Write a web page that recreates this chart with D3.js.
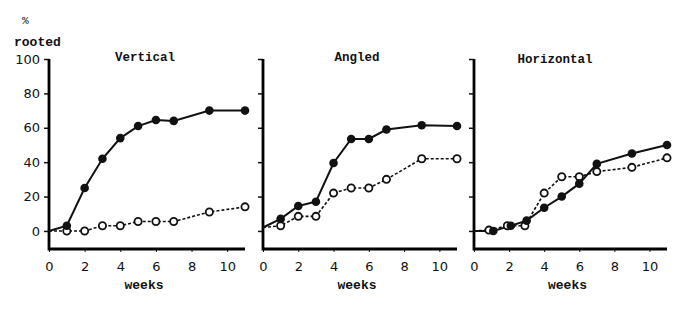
<!DOCTYPE html>
<html>
<head>
<meta charset="utf-8">
<script src="https://cdn.jsdelivr.net/npm/d3@7"></script>
<style>
  body { margin: 0; background: #fff; }
  svg { display: block; }
  .tick text { font-family: "DejaVu Sans", sans-serif; font-size: 13px; fill: #111; }
  .mono { font-family: "Liberation Mono", "DejaVu Sans Mono", monospace; font-weight: bold; fill: #111; }
</style>
</head>
<body>
<div class="svg-container"></div>
<script>
// weeks / % rooted
let panelTitles = ['Vertical', 'Angled', 'Horizontal']
let yTicks = [0, 20, 40, 60, 80, 100]
let xTicks = [0, 2, 4, 6, 8, 10]

let verticalFilled = [[0, 0], [1, 3], [2, 25], [3, 42], [4, 54], [5, 61], [6, 64.5], [7, 64], [9, 70], [11, 70]]
let verticalOpen = [[0, 0], [1, 0], [2, 0], [3, 3], [4, 3], [5, 5.5], [6, 5.5], [7, 5.5], [9, 11], [11, 14]]
let angledFilled = [[0, 2], [1, 7], [2, 14.5], [3, 17], [4, 39.5], [5, 53.5], [6, 53.5], [7, 59], [9, 61.5], [11, 61]]
let angledOpen = [[0, 2], [1, 3], [2, 8.5], [3, 8.5], [4, 22], [5, 25], [6, 25], [7, 30], [9, 42], [11, 42]]
let horizFilled = [[0, 0], [1.1, 0], [2.1, 3], [3, 6], [4, 13.5], [5, 20], [6, 27.5], [7, 39], [9, 45], [11, 50]]
let horizOpen = [[0, 0], [0.85, 0.5], [1.9, 3], [2.9, 3], [4, 22], [5, 31.5], [6, 31.5], [7, 34.5], [9, 37], [11, 42.5]]

let panelFilled = [verticalFilled, angledFilled, horizFilled]
let panelOpen = [verticalOpen, angledOpen, horizOpen]

let width = 700
let height = 319
let panelLeft = [49, 263, 474]
let panelRight = [245, 457, 667]
let titleX = [145, 357, 555]

let svg = d3.select('.svg-container')
  .append('svg')
  .attr('width', width)
  .attr('height', height)

let yScale = d3.scaleLinear()
  .domain([-10.5, 100])
  .range([249, 59])

// y label
svg.append('text')
  .attr('class', 'mono')
  .attr('x', 22)
  .attr('y', 24)
  .style('font-size', '11px')
  .style('font-weight', 'normal')
  .text('%')
svg.append('text')
  .attr('class', 'mono')
  .attr('x', 14)
  .attr('y', 46)
  .style('font-size', '13px')
  .text('rooted')

panelTitles.forEach((title, i) => {
  let xScale = d3.scaleLinear()
    .domain([0, 11])
    .range([panelLeft[i], panelRight[i]])

  let g = svg.append('g')

  let yAxis = d3.axisLeft(yScale)
    .tickValues(yTicks)
    .tickSize(5)
    .tickPadding(4)
    .tickFormat(i === 0 ? d3.format('d') : '')

  let yg = g.append('g')
    .attr('transform', `translate(${panelLeft[i]}, 0)`)
    .call(yAxis)
  yg.select('.domain').remove()
  yg.selectAll('.tick line').attr('stroke', '#111').attr('stroke-width', 1.5)

  let xAxis = d3.axisBottom(xScale)
    .tickValues(xTicks)
    .tickSize(3)
    .tickPadding(10)
    .tickFormat(d3.format('d'))

  let xg = g.append('g')
    .attr('transform', `translate(0, 249)`)
    .call(xAxis)
  xg.select('.domain').remove()
  xg.selectAll('.tick line').attr('stroke', '#111').attr('stroke-width', 1)

  // axis lines
  g.append('path')
    .attr('d', `M${panelLeft[i]},${yScale(100)}V${yScale(-10.5)}H${panelRight[i]}`)
    .attr('fill', 'none')
    .attr('stroke', '#000')
    .attr('stroke-width', 2.8)

  g.append('text')
    .attr('class', 'mono')
    .attr('x', titleX[i])
    .attr('y', i === 2 ? 63 : 61)
    .attr('text-anchor', 'middle')
    .style('font-size', '12.5px')
    .text(title)

  g.append('text')
    .attr('class', 'mono')
    .attr('x', (panelLeft[i] + panelRight[i]) / 2 - 3)
    .attr('y', 289)
    .attr('text-anchor', 'middle')
    .style('font-size', '13px')
    .text('weeks')

  let line = d3.line()
    .x(d => xScale(d[0]))
    .y(d => yScale(d[1]))

  g.append('path')
    .datum(panelOpen[i])
    .attr('d', line)
    .attr('fill', 'none')
    .attr('stroke', '#111')
    .attr('stroke-width', 1.6)
    .attr('stroke-dasharray', '3,2')

  g.append('path')
    .datum(panelFilled[i])
    .attr('d', line)
    .attr('fill', 'none')
    .attr('stroke', '#111')
    .attr('stroke-width', 2)

  g.selectAll('circle.open')
    .data(panelOpen[i].slice(1))
    .enter()
    .append('circle')
    .attr('class', 'open')
    .attr('cx', d => xScale(d[0]))
    .attr('cy', d => yScale(d[1]))
    .attr('r', 3.6)
    .attr('fill', '#fff')
    .attr('stroke', '#111')
    .attr('stroke-width', 1.8)

  g.selectAll('circle.filled')
    .data(panelFilled[i].slice(1))
    .enter()
    .append('circle')
    .attr('class', 'filled')
    .attr('cx', d => xScale(d[0]))
    .attr('cy', d => yScale(d[1]))
    .attr('r', 4.3)
    .attr('fill', '#111')
})
</script>
</body>
</html>
